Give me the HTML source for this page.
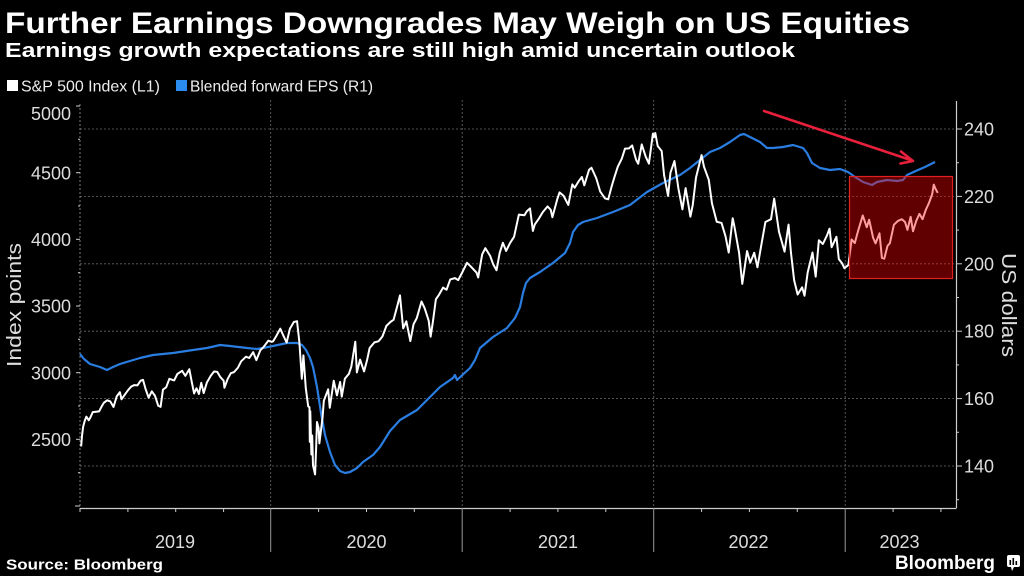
<!DOCTYPE html>
<html><head><meta charset="utf-8"><style>
html,body{margin:0;padding:0;background:#000;}
svg{display:block;}
text{font-family:"Liberation Sans",sans-serif;}
</style></head><body>
<svg width="1024" height="576" viewBox="0 0 1024 576" xmlns="http://www.w3.org/2000/svg">
<rect width="1024" height="576" fill="#000"/>
<!-- titles -->
<text x="5" y="33" font-size="30" font-weight="bold" fill="#fff" textLength="905" lengthAdjust="spacingAndGlyphs">Further Earnings Downgrades May Weigh on US Equities</text>
<text x="5" y="57" font-size="20" font-weight="bold" fill="#fff" textLength="790" lengthAdjust="spacingAndGlyphs">Earnings growth expectations are still high amid uncertain outlook</text>
<!-- legend -->
<rect x="7" y="80" width="11" height="11" fill="#fff"/>
<text x="21" y="91.5" font-size="16" fill="#eee" textLength="139" lengthAdjust="spacingAndGlyphs">S&amp;P 500 Index (L1)</text>
<rect x="176" y="80" width="11" height="11" fill="#2b8cf0"/>
<text x="190" y="91.5" font-size="16" fill="#eee" textLength="183" lengthAdjust="spacingAndGlyphs">Blended forward EPS (R1)</text>

<!-- gridlines -->
<g stroke="#6a6a6a" stroke-width="0.8" stroke-dasharray="2,2" fill="none">
<line x1="80" y1="129" x2="956" y2="129"/>
<line x1="80" y1="196.4" x2="956" y2="196.4"/>
<line x1="80" y1="263.8" x2="956" y2="263.8"/>
<line x1="80" y1="331.2" x2="956" y2="331.2"/>
<line x1="80" y1="398.6" x2="956" y2="398.6"/>
<line x1="80" y1="466" x2="956" y2="466"/>
<line x1="270.7" y1="100" x2="270.7" y2="508"/>
<line x1="462.2" y1="100" x2="462.2" y2="508"/>
<line x1="653.7" y1="100" x2="653.7" y2="508"/>
<line x1="845.2" y1="100" x2="845.2" y2="508"/>
<line x1="80" y1="104" x2="80" y2="508" stroke="#999"/>
</g>

<!-- left axis ticks -->
<g stroke="#ccc" stroke-width="1">
<line x1="76" y1="106" x2="80" y2="106"/>
<line x1="76" y1="172.7" x2="80" y2="172.7"/>
<line x1="76" y1="239.3" x2="80" y2="239.3"/>
<line x1="76" y1="306" x2="80" y2="306"/>
<line x1="76" y1="372.7" x2="80" y2="372.7"/>
<line x1="76" y1="439.3" x2="80" y2="439.3"/>
<line x1="75" y1="506" x2="80" y2="506"/>
<line x1="78" y1="139.3" x2="80" y2="139.3"/>
<line x1="78" y1="206" x2="80" y2="206"/>
<line x1="78" y1="272.7" x2="80" y2="272.7"/>
<line x1="78" y1="339.3" x2="80" y2="339.3"/>
<line x1="78" y1="406" x2="80" y2="406"/>
<line x1="78" y1="472.7" x2="80" y2="472.7"/>
</g>
<g font-size="18" fill="#ddd" text-anchor="end">
<text x="71" y="120">5000</text>
<text x="71" y="179.5">4500</text>
<text x="71" y="246">4000</text>
<text x="71" y="312.7">3500</text>
<text x="71" y="379.3">3000</text>
<text x="71" y="446">2500</text>
</g>
<text transform="translate(21,305) rotate(-90)" font-size="20" fill="#ddd" text-anchor="middle" textLength="124" lengthAdjust="spacingAndGlyphs">Index points</text>

<!-- right axis -->
<line x1="956.5" y1="101" x2="956.5" y2="508" stroke="#ccc" stroke-width="1.2"/>
<g stroke="#ccc" stroke-width="1">
<line x1="956" y1="129" x2="962" y2="129"/>
<line x1="956" y1="196.4" x2="962" y2="196.4"/>
<line x1="956" y1="263.8" x2="962" y2="263.8"/>
<line x1="956" y1="331.2" x2="962" y2="331.2"/>
<line x1="956" y1="398.6" x2="962" y2="398.6"/>
<line x1="956" y1="466" x2="962" y2="466"/>
<line x1="956" y1="162.7" x2="959" y2="162.7"/>
<line x1="956" y1="230.1" x2="959" y2="230.1"/>
<line x1="956" y1="297.5" x2="959" y2="297.5"/>
<line x1="956" y1="364.9" x2="959" y2="364.9"/>
<line x1="956" y1="432.3" x2="959" y2="432.3"/>
<line x1="956" y1="499.7" x2="959" y2="499.7"/>
</g>
<g font-size="18" fill="#ddd">
<text x="964" y="135.5">240</text>
<text x="964" y="202.9">220</text>
<text x="964" y="270.3">200</text>
<text x="964" y="337.7">180</text>
<text x="964" y="405.1">160</text>
<text x="964" y="472.5">140</text>
</g>
<text transform="translate(1002,305) rotate(90)" font-size="20" fill="#ddd" text-anchor="middle" textLength="104" lengthAdjust="spacingAndGlyphs">US dollars</text>

<!-- x axis -->
<line x1="80" y1="508.5" x2="956.5" y2="508.5" stroke="#ccc" stroke-width="1.2"/>
<g stroke="#ccc" stroke-width="1">
<line x1="80" y1="508" x2="80" y2="512"/>
<line x1="127.9" y1="508" x2="127.9" y2="512"/>
<line x1="175.7" y1="508" x2="175.7" y2="512"/>
<line x1="223.6" y1="508" x2="223.6" y2="512"/>
<line x1="318.6" y1="508" x2="318.6" y2="512"/>
<line x1="366.5" y1="508" x2="366.5" y2="512"/>
<line x1="414.3" y1="508" x2="414.3" y2="512"/>
<line x1="510.1" y1="508" x2="510.1" y2="512"/>
<line x1="557.9" y1="508" x2="557.9" y2="512"/>
<line x1="605.8" y1="508" x2="605.8" y2="512"/>
<line x1="701.6" y1="508" x2="701.6" y2="512"/>
<line x1="749.4" y1="508" x2="749.4" y2="512"/>
<line x1="797.3" y1="508" x2="797.3" y2="512"/>
<line x1="893.1" y1="508" x2="893.1" y2="512"/>
<line x1="940.9" y1="508" x2="940.9" y2="512"/>
</g>
<g stroke="#999" stroke-width="1">
<line x1="270.7" y1="508" x2="270.7" y2="552"/>
<line x1="462.2" y1="508" x2="462.2" y2="552"/>
<line x1="653.7" y1="508" x2="653.7" y2="552"/>
<line x1="845.2" y1="508" x2="845.2" y2="552"/>
</g>
<g font-size="18" fill="#ddd" text-anchor="middle">
<text x="175" y="548">2019</text>
<text x="366.5" y="548">2020</text>
<text x="558" y="548">2021</text>
<text x="748.5" y="548">2022</text>
<text x="899.5" y="548">2023</text>
</g>

<!-- EPS line -->
<polyline fill="none" stroke="#2a7de1" stroke-width="2.2" stroke-linejoin="round" points="80,354 84,359 90,364 100,367 107,370 113,367 120,364 130,361 140,358 153,355 173,353 193,350 207,348 220,345 230,346 247,348 257,349 263,348 273,346 287,343 297,343 302,345 306,350 310,358 313,367 317,387 321,413 325,435 330,452 335,465 340,471 345,473 350,472 357,468 363,462 373,455 380,447 390,431 400,420 417,410 430,397 440,387 453,378 455,375 457,380 470,368 475,360 480,348 493,337 507,328 515,318 520,307 523,293 526,283 530,278 540,272 553,263 565,253 570,243 573,232 578,225 583,222 597,218 613,212 630,205 647,192 663,183 680,175 690,168 700,160 710,152 720,148 730,142 740,135 744,134 750,137 760,142 767,148 773,148 783,147 793,145 803,148 807,153 812,163 820,168 830,170 840,169 848,172 855,177 863,182 872,185 877,182 887,180 897,181 903,180 907,175 918,170 925,167 935,162"/>

<!-- S&P line -->
<polyline fill="none" stroke="#fff" stroke-width="2" stroke-linejoin="round" vector-effect="non-scaling-stroke" transform="matrix(15.9583 0 0 -0.133333 80 772.667)" points="0.07,2447 0.13,2532 0.2,2596 0.3,2640 0.4,2670 0.55,2643 0.65,2664 0.8,2704 1.0,2707 1.2,2710 1.35,2745 1.5,2775 1.7,2793 1.9,2784 2.1,2743 2.3,2822 2.5,2854 2.6,2800 2.8,2834 3.0,2867 3.2,2895 3.4,2907 3.6,2905 3.8,2940 3.95,2946 4.1,2881 4.3,2812 4.5,2860 4.7,2826 4.9,2752 5.05,2744 5.2,2873 5.4,2890 5.6,2954 5.9,2942 6.1,2990 6.4,3014 6.6,2976 6.85,3026 7.0,2932 7.15,2844 7.3,2883 7.45,2840 7.6,2924 7.75,2847 7.95,2926 8.2,2978 8.4,3009 8.6,3006 8.8,2966 9.0,2940 9.05,2887 9.25,2952 9.45,2996 9.65,3004 9.9,3038 10.1,3085 10.4,3120 10.6,3110 10.85,3154 11.05,3094 11.3,3168 11.5,3192 11.8,3240 12.0,3231 12.1,3235 12.3,3275 12.55,3330 12.75,3276 12.95,3226 13.15,3328 13.4,3380 13.6,3386 13.75,3225 13.9,2954 14.0,3130 14.15,2882 14.3,2747 14.38,2741 14.4,2481 14.43,2711 14.5,2386 14.55,2529 14.6,2305 14.73,2237 14.8,2447 14.85,2630 14.95,2585 15.0,2470 15.2,2664 15.28,2790 15.55,2875 15.65,2737 15.9,2939 16.1,2830 16.3,2930 16.4,2820 16.6,2955 16.85,2991 17.0,3044 17.25,3232 17.35,3002 17.55,3098 17.8,3009 18.0,3100 18.15,3185 18.45,3227 18.7,3235 18.95,3271 19.2,3351 19.45,3380 19.65,3397 19.9,3508 20.05,3580 20.25,3332 20.45,3385 20.7,3237 20.9,3363 21.1,3408 21.4,3534 21.6,3483 21.85,3390 21.97,3270 22.1,3370 22.3,3550 22.5,3585 22.75,3638 22.97,3622 23.2,3699 23.5,3709 23.7,3694 23.97,3756 24.25,3824 24.5,3795 24.85,3750 24.95,3714 25.2,3887 25.4,3934 25.7,3876 25.9,3811 26.1,3768 26.3,3899 26.5,3974 26.7,3913 26.95,3973 27.2,4019 27.5,4185 27.85,4181 28.0,4211 28.2,4232 28.38,4063 28.5,4112 28.75,4155 29.0,4204 29.3,4247 29.5,4221 29.6,4166 29.9,4298 30.05,4352 30.3,4327 30.6,4258 30.85,4412 31.0,4387 31.25,4436 31.45,4468 31.6,4405 31.9,4522 32.05,4537 32.35,4458 32.6,4358 32.9,4307 33.1,4300 33.3,4391 33.5,4471 33.7,4545 33.95,4605 34.15,4680 34.4,4682 34.6,4704 34.85,4595 34.98,4567 35.2,4712 35.45,4620 35.65,4568 35.9,4793 35.97,4766 36.05,4797 36.2,4700 36.45,4662 36.6,4482 36.85,4326 37.0,4500 37.25,4587 37.5,4380 37.75,4225 37.95,4384 38.25,4170 38.4,4260 38.6,4463 38.95,4632 39.1,4545 39.4,4447 39.6,4271 39.9,4132 40.2,4123 40.45,4023 40.65,3901 40.9,4158 41.0,4101 41.3,3900 41.5,3666 41.8,3912 42.0,3825 42.25,3899 42.45,3790 42.7,3962 42.95,4130 43.3,4151 43.5,4305 43.8,4057 44.15,3908 44.4,4110 44.55,3901 44.75,3693 44.97,3586 45.25,3640 45.4,3577 45.6,3752 45.9,3901 46.1,3720 46.3,3993 46.55,3965 46.8,4027 46.97,4080 47.1,3941 47.4,4019 47.55,3852 47.75,3822 47.9,3783 48.15,3808 48.35,3999 48.55,3972 48.75,4060 49.05,4179 49.3,4091 49.45,4147 49.7,4012 49.85,3970 50.1,4045 50.25,3861 50.4,3855 50.6,3951 50.75,3971 51.0,4109 51.25,4138 51.5,4151 51.7,4130 51.85,4071 52.05,4169 52.2,4061 52.4,4138 52.6,4191 52.8,4151 53.0,4221 53.2,4273 53.4,4338 53.5,4410 53.6,4381 53.75,4348"/>

<!-- highlight box -->
<rect x="849.5" y="176.5" width="103" height="102" fill="#ff0000" fill-opacity="0.38" stroke="#e32020" stroke-width="1.2"/>

<!-- arrow -->
<g stroke="#e8203c" stroke-width="2.6" fill="none" stroke-linecap="round" stroke-linejoin="round">
<line x1="764" y1="111" x2="912" y2="160.5"/>
<polyline points="901,151.5 913,161 900.5,163.5"/>
</g>

<!-- footer -->
<text x="6" y="569.5" font-size="15" font-weight="bold" fill="#fff" textLength="157" lengthAdjust="spacingAndGlyphs">Source: Bloomberg</text>
<text x="895" y="569" font-size="19" font-weight="bold" fill="#fff" textLength="100" lengthAdjust="spacingAndGlyphs">Bloomberg</text>
<g>
<rect x="1007" y="555" width="13" height="12" rx="2" fill="#fff"/>
<polygon points="1011,567 1014,567 1012,571" fill="#fff"/>
<rect x="1009.5" y="560" width="1.6" height="5" fill="#000"/>
<rect x="1012.5" y="558" width="1.6" height="7" fill="#000"/>
<rect x="1015.5" y="561" width="1.6" height="4" fill="#000"/>
</g>
</svg>
</body></html>
